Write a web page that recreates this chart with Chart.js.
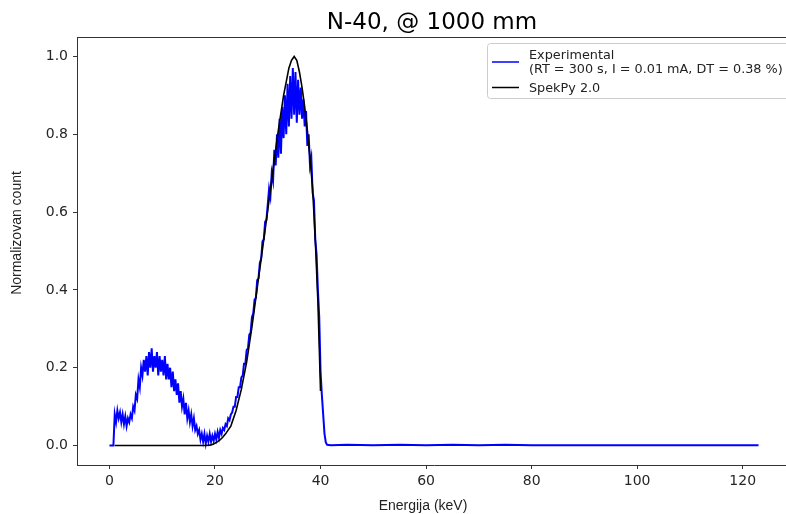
<!DOCTYPE html>
<html>
<head>
<meta charset="utf-8">
<script src="https://cdn.jsdelivr.net/npm/chart.js@4.4.1/dist/chart.umd.min.js"></script>
<style>
  html, body { margin: 0; padding: 0; background: #fff; overflow: hidden; }
  #wrap { width: 786px; height: 514px; overflow: hidden; }
  canvas { display: block; }
</style>
</head>
<body>
<div id="wrap"><canvas id="chart" width="800" height="514"></canvas></div>
<script>
// measured spectrum, normalised counts vs energy (keV)
const expEnergy = [
  0, 0.25, 0.5, 0.75,   1, 1.25, 1.5, 1.75,   2, 2.25, 2.5, 2.75,   3, 3.25, 3.5, 3.75,
  4, 4.25, 4.5, 4.75,   5, 5.25, 5.5, 5.75,   6, 6.25, 6.5, 6.75,   7, 7.25, 7.5, 7.75,
  8, 8.25, 8.5, 8.75,   9, 9.25, 9.5, 9.75,   10, 10.25, 10.5, 10.75,   11, 11.25, 11.5, 11.75,
  12, 12.25, 12.5, 12.75,   13, 13.25, 13.5, 13.75,   14, 14.25, 14.5, 14.75,   15, 15.25, 15.5, 15.75,
  16, 16.25, 16.5, 16.75,   17, 17.25, 17.5, 17.75,   18, 18.25, 18.5, 18.75,   19, 19.25, 19.5, 19.75,
  20, 20.25, 20.5, 20.75,   21, 21.25, 21.5, 21.75,   22, 22.25, 22.5, 22.75,   23, 23.25, 23.5, 23.75,
  24, 24.25, 24.5, 24.75,   25, 25.25, 25.5, 25.75,   26, 26.25, 26.5, 26.75,   27, 27.25, 27.5, 27.75,
  28, 28.25, 28.5, 28.75,   29, 29.25, 29.5, 29.75,   30, 30.25, 30.5, 30.75,   31, 31.25, 31.5, 31.75,
  32, 32.25, 32.5, 32.75,   33, 33.25, 33.5, 33.75,   34, 34.25, 34.5, 34.75,   35, 35.25, 35.5, 35.75,
  36, 36.25, 36.5, 36.75,   37, 37.25, 37.5, 37.75,   38, 38.25, 38.5, 38.75,   39, 39.25, 39.5, 39.75,
  40, 40.25, 40.5, 40.75,   41, 41.25,
  42, 45, 50, 55, 60, 65, 70, 75, 80, 90, 100, 110, 123
]
const expCount = [
  0, 0, 0, 0,   0.08, 0.06, 0.09, 0.07,   0.085, 0.06, 0.08, 0.055,   0.075, 0.05, 0.07, 0.06,
  0.08, 0.07, 0.10, 0.09,   0.13, 0.12, 0.17, 0.15,   0.20, 0.18, 0.22, 0.19,   0.23, 0.18, 0.24, 0.20,
  0.25, 0.19, 0.23, 0.20,   0.24, 0.18, 0.23, 0.19,   0.22, 0.18, 0.23, 0.17,   0.21, 0.17, 0.20, 0.15,
  0.19, 0.14, 0.17, 0.13,   0.16, 0.11, 0.14, 0.10,   0.12, 0.08, 0.11, 0.07,   0.09, 0.06, 0.08, 0.05,
  0.07, 0.04, 0.05, 0.03,   0.04, 0.015, 0.03, 0.01,   0.03, 0.005, 0.025, 0.01,   0.03, 0.01, 0.025, 0.012,
  0.03, 0.015, 0.035, 0.02,   0.04, 0.03, 0.045, 0.04,   0.055, 0.05, 0.07, 0.065,   0.08, 0.085, 0.10, 0.10,
  0.125, 0.125, 0.15, 0.15,   0.175, 0.18, 0.21, 0.21,   0.245, 0.25, 0.285, 0.29,   0.33, 0.34, 0.375, 0.38,
  0.425, 0.43, 0.47, 0.48,   0.525, 0.53, 0.575, 0.58,   0.62, 0.66, 0.64, 0.70,   0.68, 0.76, 0.72, 0.80,
  0.74, 0.84, 0.75, 0.87,   0.79, 0.90, 0.80, 0.93,   0.82, 0.95, 0.84, 0.97,   0.85, 0.96, 0.83, 0.94,
  0.85, 0.92, 0.84, 0.89,   0.82, 0.86, 0.77, 0.80,   0.72, 0.74, 0.65, 0.63,   0.53, 0.49, 0.40, 0.33,
  0.19, 0.13, 0.08, 0.03,   0.008, 0.002,
  0.001, 0.002, 0.001, 0.002, 0.001, 0.002, 0.001, 0.002, 0.001, 0.001, 0.001, 0.001, 0.001
]

// SpekPy 2.0 simulated spectrum
const spekEnergy = [
  1, 2, 3, 4, 5, 6, 7, 8, 9, 10, 11, 12, 13, 14, 15, 16, 17, 18, 19, 19.5,
  20, 20.5, 21, 21.5, 22, 23, 24, 25, 26, 27, 28, 29, 30, 31, 32, 33, 34, 34.5,
  35, 35.5, 36, 36.5, 37, 37.5, 38, 38.5, 39, 39.5, 40
]
const spekCount = [
  0, 0, 0, 0, 0, 0, 0, 0, 0, 0, 0, 0, 0, 0, 0, 0, 0, 0, 0.001, 0.003,
  0.006, 0.01, 0.015, 0.022, 0.03, 0.05, 0.09, 0.145, 0.215, 0.305, 0.405, 0.505, 0.605, 0.71, 0.81, 0.9, 0.97, 0.99,
  1.0, 0.99, 0.96, 0.92, 0.87, 0.81, 0.74, 0.66, 0.53, 0.37, 0.14
]

const xTicks = [0, 20, 40, 60, 80, 100, 120]
const yTicks = [0, 0.2, 0.4, 0.6, 0.8, 1.0]

const legendItems = [
  { lines: ['Experimental', '(RT = 300 s, I = 0.01 mA, DT = 0.38 %)'], color: '#0000ff' },
  { lines: ['SpekPy 2.0'], color: '#000000' }
]

const toPoints = (xs, ys) => xs.map((x, i) => ({ x, y: ys[i] }))

const tickFont = { family: 'DejaVu Sans', size: 14 }
const tickColor = '#262626'

// title, axis labels, top spine and the in-plot legend
const decorations = {
  id: 'decorations',
  afterDraw(chart) {
    const { ctx, chartArea } = chart
    ctx.save()
    ctx.strokeStyle = '#333'
    ctx.lineWidth = 1
    ctx.beginPath()
    ctx.moveTo(chartArea.left, chartArea.top + 0.5)
    ctx.lineTo(chartArea.right, chartArea.top + 0.5)
    ctx.stroke()

    ctx.fillStyle = '#000'
    ctx.textAlign = 'center'
    ctx.textBaseline = 'alphabetic'
    ctx.font = '23px "DejaVu Sans"'
    ctx.fillText('N-40, @ 1000 mm', 432, 29)

    ctx.fillStyle = '#222'
    ctx.font = '14px "Liberation Sans Narrow", "Liberation Sans"'
    ctx.textBaseline = 'middle'
    ctx.fillText('Energija (keV)', 423, 506)
    ctx.save()
    ctx.translate(17, 233)
    ctx.rotate(-Math.PI / 2)
    ctx.fillText('Normalizovan count', 0, 0)
    ctx.restore()

    // legend box
    const bx = 487.5, by = 43.5, bw = 310, bh = 55
    ctx.fillStyle = 'rgba(255,255,255,0.8)'
    ctx.strokeStyle = '#cccccc'
    ctx.beginPath()
    ctx.roundRect(bx, by, bw, bh, 3)
    ctx.fill()
    ctx.stroke()
    ctx.font = '12.8px "DejaVu Sans"'
    ctx.textAlign = 'left'
    ctx.textBaseline = 'alphabetic'
    let y = 59
    legendItems.forEach(item => {
      ctx.strokeStyle = item.color
      ctx.lineWidth = 1.5
      const ly = item.lines.length > 1 ? y + 3 : y - 4
      ctx.beginPath()
      ctx.moveTo(492, ly)
      ctx.lineTo(519, ly)
      ctx.stroke()
      ctx.fillStyle = '#222'
      item.lines.forEach((t, i) => ctx.fillText(t, 529, y + i * 13.5))
      y += item.lines.length * 13.5 + 5.5
    })
    ctx.restore()
  }
}

new Chart(document.getElementById('chart').getContext('2d'), {
  type: 'scatter',
  data: {
    datasets: [
      {
        label: 'Experimental',
        data: toPoints(expEnergy, expCount),
        showLine: true,
        borderColor: '#0000ff',
        borderWidth: 2,
        pointRadius: 0,
        tension: 0,
        order: 2
      },
      {
        label: 'SpekPy 2.0',
        data: toPoints(spekEnergy, spekCount),
        showLine: true,
        borderColor: '#000000',
        borderWidth: 1.6,
        pointRadius: 0,
        tension: 0,
        order: 1
      }
    ]
  },
  options: {
    responsive: false,
    animation: false,
    devicePixelRatio: 1,
    // the plot frame runs a few pixels past the right edge of the picture
    layout: { padding: { top: 37, right: 9, left: 0, bottom: 0 } },
    plugins: {
      legend: { display: false },
      tooltip: { enabled: false },
      title: { display: false }
    },
    scales: {
      x: {
        type: 'linear',
        min: -6.15,
        max: 129.15,
        afterBuildTicks: (scale) => { scale.ticks = xTicks.map(v => ({ value: v })) },
        afterFit: (scale) => { scale.height = 49 },
        grid: { drawOnChartArea: false, drawTicks: true, tickLength: 4, color: '#333' },
        border: { display: true, color: '#333', width: 1 },
        ticks: { font: tickFont, color: tickColor, padding: 4, maxRotation: 0, callback: (v) => v }
      },
      y: {
        type: 'linear',
        min: -0.05,
        max: 1.05,
        afterBuildTicks: (scale) => { scale.ticks = yTicks.map(v => ({ value: v })) },
        afterFit: (scale) => { scale.width = 77 },
        grid: { drawOnChartArea: false, drawTicks: true, tickLength: 4, color: '#333' },
        border: { display: true, color: '#333', width: 1 },
        ticks: { font: tickFont, color: tickColor, padding: 5, callback: (v) => v.toFixed(1) }
      }
    }
  },
  plugins: [decorations]
})
</script>
</body>
</html>
